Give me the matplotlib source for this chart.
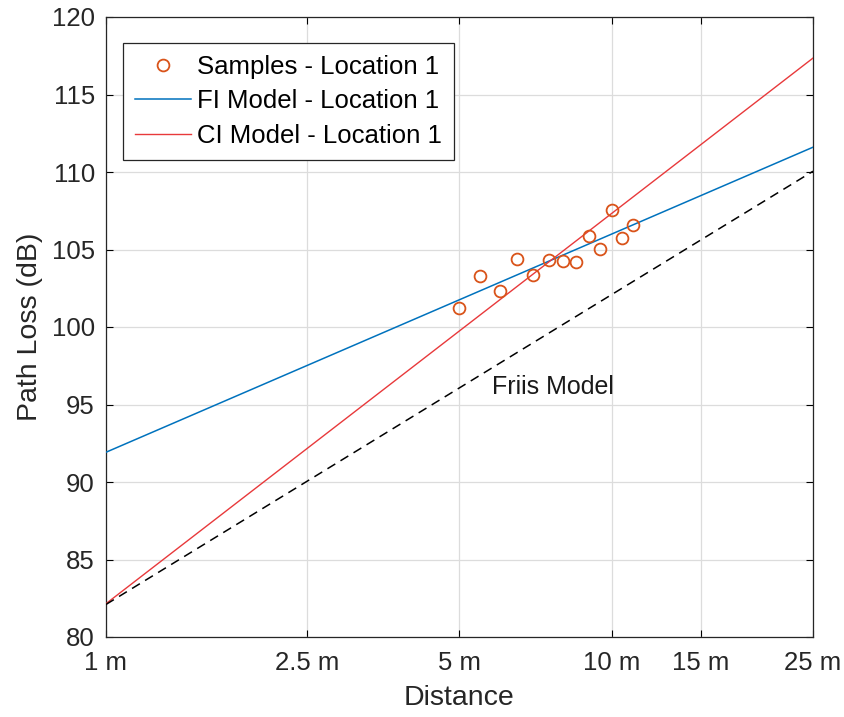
import matplotlib
matplotlib.use("Agg")
import matplotlib.pyplot as plt

plt.rcParams['font.family'] = ['Liberation Sans', 'DejaVu Sans']

# Data
sample_dist = [5.0, 5.5, 6.0, 6.5, 7.0, 7.5, 8.0, 8.5, 9.0, 9.5, 10.0, 10.5, 11.0]
sample_pl = [101.25, 103.3, 102.3, 104.4, 103.35, 104.3, 104.25, 104.2, 105.9, 105.05, 107.55, 105.75, 106.55]

line_dist = [1.0, 25.0]
fi_pl = [91.92, 111.6]
ci_pl = [82.15, 117.35]
friis_pl = [82.1, 110.05]

xtick_vals = [1, 2.5, 5, 10, 15, 25]
xtick_labels = ['1 m', '2.5 m', '5 m', '10 m', '15 m', '25 m']
ytick_vals = [80, 85, 90, 95, 100, 105, 110, 115, 120]

fig = plt.figure(figsize=(8.45, 7.17), dpi=100)
ax = fig.add_axes([106/845, 1-637/717, (813-106)/845, (637-17)/717])

ax.plot(sample_dist, sample_pl, 'o', mfc='none', mec='#D95319', ms=8.5, mew=1.3,
        label='Samples - Location 1', zorder=4)
ax.plot(line_dist, fi_pl, '-', color='#0072BD', lw=1.1, label='FI Model - Location 1', zorder=3)
ax.plot(line_dist, ci_pl, '-', color='#E8393B', lw=1.0, label='CI Model - Location 1', zorder=3)
ax.plot(line_dist, friis_pl, '--', color='black', lw=1.1, dashes=(6, 4), zorder=3)

ax.text(5.8, 96.1, 'Friis Model', fontsize=18, color='#1a1a1a', va='center', ha='left')

ax.set_xscale('log')
ax.set_xlim(1, 25)
ax.set_ylim(80, 120)
ax.set_xticks(xtick_vals)
ax.set_xticklabels(xtick_labels)
ax.minorticks_off()
ax.set_yticks(ytick_vals)

ax.grid(True, color='#dcdcdc', lw=0.9)
ax.set_axisbelow(True)
ax.tick_params(direction='in', top=True, right=True, length=5, width=0.8,
               labelsize=18.5, labelcolor='#262626')
ax.tick_params(axis='x', pad=10)
ax.tick_params(axis='y', pad=8)
for s in ax.spines.values():
    s.set_linewidth(0.9)
    s.set_color('#262626')

ax.set_xlabel('Distance', fontsize=20.5, color='#262626')
ax.set_ylabel('Path Loss (dB)', fontsize=20.5, color='#262626')
ax.xaxis.set_label_coords(0.5, -0.077)
ax.yaxis.set_label_coords(-0.089, 0.5)

leg = ax.legend(loc='upper left', bbox_to_anchor=(0.024, 0.958), fontsize=18.5,
                frameon=True, fancybox=False, edgecolor='#262626', framealpha=1,
                handlelength=2.2, handletextpad=0.25, borderpad=0.45, labelspacing=0.42,
                borderaxespad=0)
leg.get_frame().set_linewidth(0.9)

fig.savefig('out.png', dpi=100)
